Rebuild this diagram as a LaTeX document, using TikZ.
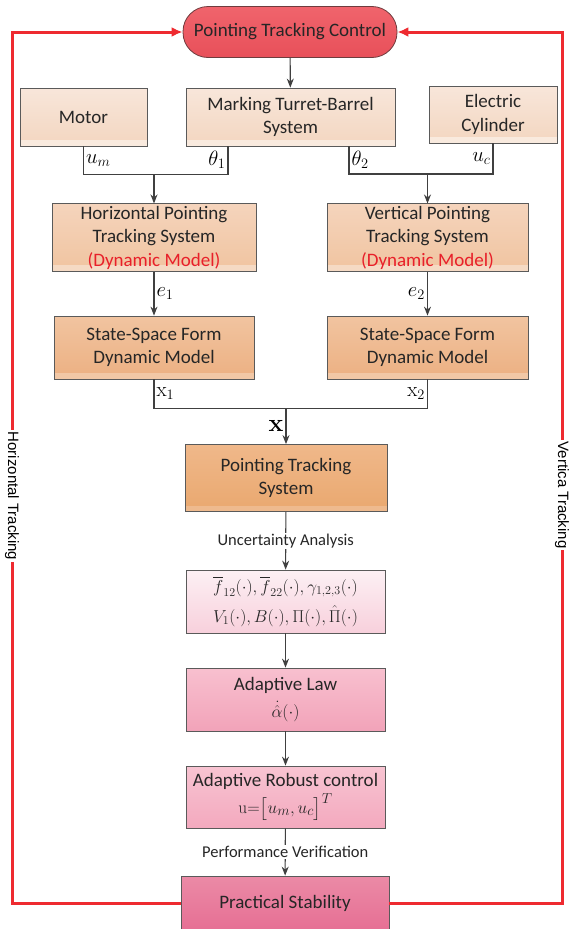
\documentclass[tikz,border=0pt]{standalone}
\usepackage{amsmath,amssymb}
\usepackage[no-math]{fontspec}
\setmainfont{Carlito}
\newfontfamily\sidefont{Liberation Sans}
\usepackage{tikz}
\usetikzlibrary{arrows.meta, positioning, calc}

\definecolor{boxgray}{HTML}{5A5A5A}
\definecolor{wiregray}{HTML}{404040}
\definecolor{txt}{HTML}{262626}
\definecolor{fbred}{HTML}{EE2A30}
\definecolor{dmred}{HTML}{E8202A}
\definecolor{ctrltop}{HTML}{F0646C}
\definecolor{ctrlbot}{HTML}{E8505A}
\definecolor{ctrlline}{HTML}{6E3C3E}
\definecolor{inTop}{HTML}{F8E6DA}
\definecolor{inBot}{HTML}{F3D6C0}
\definecolor{inStrip}{HTML}{F9EADE}
\definecolor{subTop}{HTML}{F5D4BC}
\definecolor{subBot}{HTML}{F0C4A0}
\definecolor{subStrip}{HTML}{F5DAC4}
\definecolor{ssTop}{HTML}{F1C4A0}
\definecolor{ssBot}{HTML}{ECB082}
\definecolor{ssStrip}{HTML}{F2C8A6}
\definecolor{ptsTop}{HTML}{F0B88A}
\definecolor{ptsBot}{HTML}{E9A86F}
\definecolor{ptsStrip}{HTML}{EEBA8E}
\definecolor{uncTop}{HTML}{FCF0F4}
\definecolor{uncBot}{HTML}{F8D0DC}
\definecolor{lawTop}{HTML}{F8C0CF}
\definecolor{lawBot}{HTML}{F2A3B9}
\definecolor{arcTop}{HTML}{F8C4D2}
\definecolor{arcBot}{HTML}{F3A9BE}
\definecolor{stabTop}{HTML}{EB8AA6}
\definecolor{stabBot}{HTML}{E66F94}

\begin{document}
\begin{tikzpicture}[x=1pt,y=-1pt,
    box/.style={draw=boxgray, line width=0.8pt, align=center, inner sep=2pt,
        text=txt, font=\fontsize{19}{23.5}\selectfont},
    strip/.style={path picture={\fill[#1] ([shift={(0.5pt,0.5pt)}]path picture bounding box.south west)
        rectangle ([shift={(-0.5pt,6pt)}]path picture bounding box.south east);}},
    inbox/.style={box, top color=inTop, bottom color=inBot, strip=inStrip},
    subbox/.style={box, top color=subTop, bottom color=subBot, strip=subStrip},
    ssbox/.style={box, top color=ssTop, bottom color=ssBot, strip=ssStrip},
    lbl/.style={font=\fontsize{21}{24}\selectfont, inner sep=2pt},
    note/.style={fill=white, inner sep=1pt, text=txt, font=\fontsize{16.5}{20}\selectfont},
    side/.style={fill=white, inner sep=1.5pt, rotate=-90, font=\sidefont\fontsize{15}{18}\selectfont},
    wire/.style={draw=wiregray, line width=1.1pt},
    arr/.style={wire, -{Stealth[length=9pt,width=7pt]}},
    fb/.style={draw=fbred, line width=3pt, -{Latex[length=11pt,width=10pt]}}]
    \useasboundingbox (0,0) rectangle (569,929);

    % top row
    \node[box, rounded corners=25pt, minimum width=214pt, minimum height=51pt,
        top color=ctrltop, bottom color=ctrlbot, draw=ctrlline] (ctrl) at (290,32) {Pointing Tracking Control};
    \node[inbox, minimum width=127pt, minimum height=58pt] (motor) at (83.5,117) {Motor};
    \node[inbox, minimum width=209pt, minimum height=58pt] (turret) at (290.5,117) {Marking Turret-Barrel\\System};
    \node[inbox, minimum width=128pt, minimum height=57pt] (cyl) at (493,114.5) {Electric\\Cylinder};

    % subsystems
    \node[subbox, minimum width=204pt, minimum height=63pt] (hsys) at (154,237.5)
        {Horizontal Pointing\\Tracking System\\\textcolor{dmred}{(Dynamic Model)}};
    \node[subbox, minimum width=201pt, minimum height=63pt] (vsys) at (427.5,237.5)
        {Vertical Pointing\\Tracking System\\\textcolor{dmred}{(Dynamic Model)}};
    \node[ssbox, minimum width=200pt, minimum height=63pt] (hss) at (154,347.5) {State-Space Form\\Dynamic Model};
    \node[ssbox, minimum width=201pt, minimum height=63pt] (vss) at (427.5,347.5) {State-Space Form\\Dynamic Model};

    % main column
    \node[box, minimum width=202pt, minimum height=67pt, top color=ptsTop, bottom color=ptsBot, strip=ptsStrip]
        (pts) at (286,478) {Pointing Tracking\\System};
    \node[box, minimum width=199pt, minimum height=63pt, top color=uncTop, bottom color=uncBot,
        font=\fontsize{17.5}{30}\selectfont] (unc) at (285.5,601.5)
        {$\overline{f}_{12}(\cdot),\overline{f}_{22}(\cdot),\gamma_{1,2,3}(\cdot)$\\
        $V_1(\cdot),B(\cdot),\Pi(\cdot),\hat{\Pi}(\cdot)$};
    \node[box, minimum width=199pt, minimum height=63pt, top color=lawTop, bottom color=lawBot,
        font=\fontsize{19}{23.5}\selectfont] (law) at (285.5,699.5) {Adaptive Law\\[3pt]$\dot{\hat{\alpha}}(\cdot)$};
    \node[box, minimum width=199pt, minimum height=62pt, top color=arcTop, bottom color=arcBot,
        font=\fontsize{19}{23.5}\selectfont] (arc) at (285.5,797)
        {Adaptive Robust control\\[3pt]$\mathrm{u}{=}\big[u_m,u_c\big]^T$};
    \node[box, minimum width=208pt, minimum height=54pt, top color=stabTop, bottom color=stabBot]
        (stab) at (285,903) {Practical Stability};

    % junctions
    \coordinate (t1) at (228,146);
    \coordinate (t2) at (349,146);
    \coordinate (jh) at (154,174);
    \coordinate (jv) at (427.5,174);
    \coordinate (jx) at (286,408);
    \coordinate (lc) at (12,32);
    \coordinate (rc) at (562,32);

    \draw[arr] (ctrl) -- (turret);
    \draw[wire] (motor.south) -- node[lbl, right] {$u_m$} ++(0,28) -| node[lbl, pos=0.75, left] {$\theta_1$} (t1);
    \draw[wire] (t2) -- node[lbl, right] {$\theta_2$} ++(0,28) -| node[lbl, pos=0.75, left] {$u_c$} (cyl.south);
    \draw[arr] (jh) -- (hsys);
    \draw[arr] (jv) -- (vsys);
    \draw[arr] (hsys) -- node[lbl, right] {$e_1$} (hss);
    \draw[arr] (vsys) -- node[lbl, left] {$e_2$} (vss);
    \draw[wire] (hss.south) -- node[lbl, right] {$\mathrm{x}_1$} ++(0,29) -| node[lbl, pos=0.75, left] {$\mathrm{x}_2$} (vss.south);
    \draw[arr] (jx) -- node[lbl, left, font=\fontsize{24}{26}\selectfont] {$\mathbf{x}$} (pts);
    \draw[arr] (pts) -- node[note] {Uncertainty Analysis} (unc);
    \draw[arr] (unc) -- (law);
    \draw[arr] (law) -- (arc);
    \draw[arr] (arc) -- node[note] {Performance Verification} (stab);

    % feedback loops
    \draw[fb] (stab.west) -| (lc) -- (ctrl.west);
    \draw[fb] (stab.east) -| (rc) -- (ctrl.east);
    \node[side] (htrk) at (12,496) {Horizontal Tracking};
    \node[side] (vtrk) at (562,495) {Vertica Tracking};
\end{tikzpicture}
\end{document}
